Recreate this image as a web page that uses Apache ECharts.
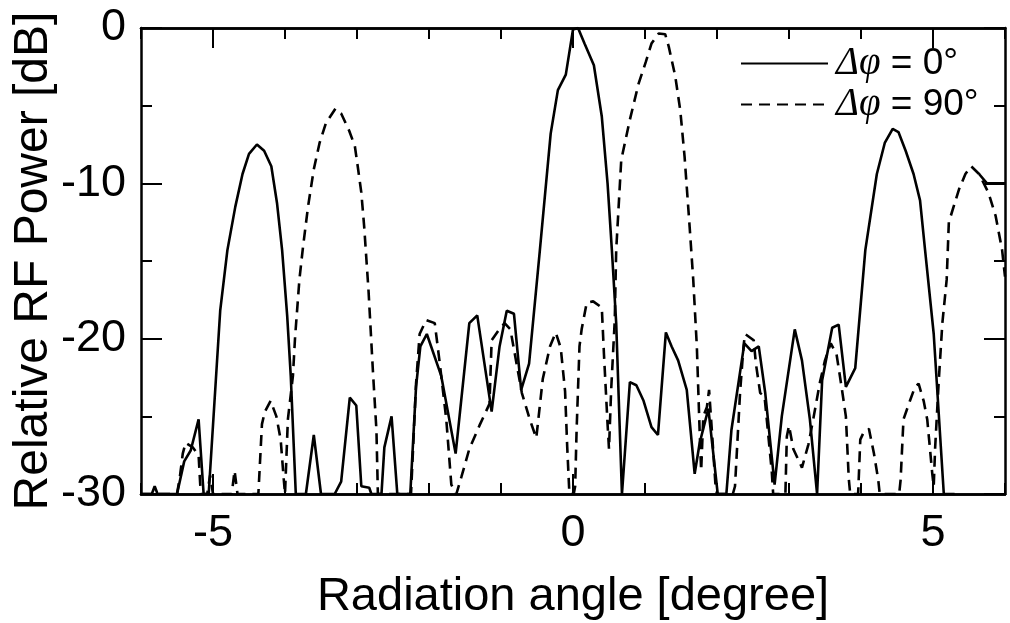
<!DOCTYPE html>
<html>
<head>
<meta charset="utf-8">
<script src="https://cdn.jsdelivr.net/npm/echarts@6/dist/echarts.min.js"></script>
<style>
html,body{margin:0;padding:0;background:#fff;}
#chart{width:1010px;height:623px;}
</style>
</head>
<body>
<div id="chart"></div>
<script>
// Δφ = 0° (solid)
var solidX = [-6.0,-5.85,-5.81,-5.77,-5.50,-5.40,-5.31,-5.20,-5.13,-5.06,-4.90,-4.80,-4.69,-4.59,-4.50,-4.39,-4.29,-4.19,-4.11,-4.04,-3.97,-3.92,-3.85,-3.71,-3.60,-3.50,-3.31,-3.22,-3.10,-3.01,-2.94,-2.83,-2.80,-2.66,-2.62,-2.52,-2.44,-2.26,-2.18,-2.12,-2.03,-1.83,-1.63,-1.44,-1.33,-1.13,-1.02,-0.92,-0.82,-0.72,-0.61,-0.46,-0.31,-0.21,-0.10,0.00,0.07,0.16,0.29,0.40,0.48,0.54,0.60,0.68,0.79,0.88,0.98,1.09,1.18,1.29,1.37,1.46,1.58,1.69,1.76,1.88,2.01,2.13,2.20,2.38,2.48,2.58,2.67,2.80,2.90,3.08,3.18,3.29,3.39,3.46,3.60,3.69,3.79,3.92,4.06,4.22,4.33,4.44,4.52,4.62,4.73,4.82,4.89,5.01,5.15,5.30,5.50,5.64,5.75,6.00];
var solidY = [-30,-30,-29.5,-30,-30,-27.9,-27.2,-25.2,-30,-30,-18.2,-14.3,-11.5,-9.4,-8.1,-7.5,-7.9,-8.9,-11.3,-14.3,-18.5,-22.4,-30,-30,-26.2,-30,-30,-29.2,-23.8,-24.3,-29.5,-29.6,-30,-30,-27.0,-25.0,-30,-30,-23.1,-20.5,-19.7,-22.4,-27.4,-19.0,-18.5,-24.7,-20.5,-18.2,-18.4,-23.3,-21.6,-14.3,-6.8,-4.0,-3.0,-0.1,0.0,-1.0,-2.4,-5.7,-10.0,-14.3,-19.0,-30,-22.8,-23.0,-24.0,-25.7,-26.2,-19.6,-20.5,-21.4,-23.3,-28.7,-26.7,-24.5,-30,-30,-25.9,-20.3,-20.8,-20.5,-23.5,-29.4,-25.0,-19.4,-21.4,-25.2,-30,-22.7,-19.3,-19.1,-23.1,-21.9,-14.3,-9.4,-7.4,-6.5,-6.7,-7.9,-9.4,-11.1,-14.3,-19.7,-30,-30,null,-9.4,-10.0,-10.0];

// Δφ = 90° (dashed)
var dashX = [-6.0,-5.50,-5.46,-5.42,-5.38,-5.28,-5.20,-5.17,-5.08,-5.04,-5.00,-4.74,-4.70,-4.66,-4.37,-4.32,-4.28,-4.20,-4.12,-4.06,-4.02,-4.00,-3.96,-3.89,-3.86,-3.80,-3.75,-3.68,-3.60,-3.52,-3.43,-3.30,-3.22,-3.11,-3.03,-2.99,-2.94,-2.90,-2.84,-2.78,-2.73,-2.71,-2.25,-2.18,-2.13,-2.04,-1.92,-1.85,-1.76,-1.69,-1.62,-1.55,-1.44,-1.30,-1.16,-1.13,-1.04,-0.95,-0.87,-0.71,-0.60,-0.51,-0.42,-0.32,-0.24,-0.17,-0.11,-0.08,-0.05,0.01,0.03,0.05,0.09,0.12,0.19,0.28,0.40,0.43,0.48,0.50,0.53,0.58,0.60,0.67,0.79,0.91,1.01,1.09,1.19,1.28,1.33,1.42,1.49,1.55,1.62,1.67,1.72,1.76,1.78,1.81,1.86,1.89,1.93,1.98,2.00,2.22,2.25,2.32,2.37,2.39,2.51,2.54,2.60,2.66,2.76,2.78,2.95,2.97,3.00,3.06,3.18,3.27,3.34,3.43,3.50,3.58,3.66,3.73,3.79,3.83,3.85,3.96,3.99,4.03,4.11,4.18,4.24,4.26,4.53,4.55,4.59,4.68,4.75,4.80,4.87,4.92,4.99,5.01,5.03,5.08,5.13,5.19,5.22,5.36,5.45,5.53,5.64,5.77,5.87,5.96,6.00];
var dashY = [-30,-30,-28.9,-27.4,-26.7,-27.0,-27.5,-30,-30,-28.8,-30,-30,-28.5,-30,-30,-25.5,-24.7,-24.0,-25.0,-26.5,-28.9,-30,-25.2,-22.4,-19.9,-16.2,-14.1,-11.5,-9.1,-7.4,-6.1,-5.2,-5.5,-6.6,-7.6,-8.9,-10.6,-12.8,-16.9,-22.0,-25.9,-30,-30,-22.9,-19.7,-18.8,-19.0,-21.6,-25.2,-29.4,-30,-28.9,-27.1,-25.6,-24.2,-20.1,-19.5,-19.0,-19.4,-23.5,-25.2,-26.4,-22.6,-20.5,-19.6,-20.6,-23.4,-27.0,-30,-30,-29.5,-25.9,-20.5,-19.4,-17.7,-17.6,-18.0,-21.0,-25.5,-27.1,-23.3,-18.8,-14.3,-8.5,-5.9,-3.6,-2.2,-1.0,-0.35,-0.4,-1.2,-3.1,-5.3,-8.3,-12.8,-16.2,-20.5,-26.1,-28.5,-25.0,-24.4,-23.3,-26.0,-29.5,-30,-30,-29.5,-23.5,-20.4,-19.7,-20.1,-21.6,-23.5,-23.7,-28.5,-30,-30,-26.3,-25.6,-27.1,-28.3,-26.8,-25.1,-22.8,-21.4,-20.3,-21.0,-23.1,-25.0,-29.0,-30,-30,-26.5,-26.1,-25.8,-27.4,-29.1,-30,-30,-29.1,-25.2,-24.0,-23.1,-22.9,-24.0,-25.2,-28.7,-29.5,-27.0,-22.7,-19.0,-16.2,-12.5,-10.4,-9.4,-8.9,-9.4,-10.6,-12.1,-14.3,-16.0];

var xMinorTicks = [-6,-5,-4,-3,-2,-1,0,1,2,3,4,5,6];
var xMajorTicks = [-5,0,5];
var xLabels = [-5,0,5];
var seriesNames = ['0', '90'];

function pairs(xs, ys){
  return xs.map(function(x,i){ return [x, ys[i] === null ? '-' : ys[i]]; });
}

var FONT = '"Liberation Sans", Arial, sans-serif';
var black = '#000';

function xAx(pos, ticks, len, withLabels){
  var ax = {
    type:'value', min:-6, max:6, position:pos, gridIndex:0,
    axisLine:{show:true, onZero:false, lineStyle:{color:black, width:2.5}},
    axisTick:{show:true, inside:true, length:len, customValues:ticks, lineStyle:{color:black, width:2}},
    axisLabel:{show:withLabels, customValues:xLabels, fontSize:45, color:black, fontFamily:FONT, margin:17},
    splitLine:{show:false}
  };
  if (withLabels) {
    ax.name = 'Radiation angle [degree]';
    ax.nameLocation = 'middle';
    ax.nameGap = 80;
    ax.nameMoveOverlap = false;
    ax.nameTextStyle = {fontSize:47, color:black, fontFamily:FONT};
  }
  return ax;
}
function yAx(pos, withLabels){
  var ax = {
    type:'value', min:-30, max:0, interval:10, position:pos, gridIndex:0,
    axisLine:{show:true, onZero:false, lineStyle:{color:black, width:2.5}},
    axisTick:{show:true, inside:true, length:21, lineStyle:{color:black, width:2}},
    minorTick:{show:true, splitNumber:2, length:11, lineStyle:{color:black, width:2}},
    axisLabel:{show:withLabels, fontSize:45, color:black, fontFamily:FONT, margin:15},
    splitLine:{show:false}
  };
  if (withLabels) {
    ax.name = 'Relative RF Power [dB]';
    ax.nameLocation = 'middle';
    ax.nameGap = 83;
    ax.nameMoveOverlap = false;
    ax.nameRotate = 90;
    ax.nameTextStyle = {fontSize:48, color:black, fontFamily:FONT};
  }
  return ax;
}

var chart = echarts.init(document.getElementById('chart'), null, {renderer:'canvas'});
chart.setOption({
  animation:false,
  backgroundColor:'#fff',
  grid:{left:141, right:5, top:28, bottom:129, containLabel:false, outerBoundsMode:'none'},
  xAxis:[
    xAx('bottom', xMinorTicks, 11, true),
    xAx('bottom', xMajorTicks, 20, false),
    xAx('top', xMinorTicks, 11, false),
    xAx('top', xMajorTicks, 20, false)
  ],
  yAxis:[ yAx('left', true), yAx('right', false) ],
  legend:{
    show:true, orient:'vertical', left:735, top:38, itemWidth:87, itemHeight:20, itemGap:0,
    data:seriesNames,
    itemStyle:{color:'rgba(0,0,0,0)', borderColor:'rgba(0,0,0,0)', borderWidth:0},
    formatter:function(n){ return '{it|Δφ} = ' + n + '°'; },
    textStyle:{fontSize:37, color:black, fontFamily:FONT, lineHeight:41, padding:[0,0,0,3],
      rich:{it:{fontSize:39, lineHeight:41, fontStyle:'italic', fontFamily:'"Liberation Serif", serif', color:black}}}
  },
  series:[
    {name:seriesNames[0], type:'line', xAxisIndex:0, yAxisIndex:0, symbol:'none', clip:true,
     connectNulls:false, lineStyle:{color:black, width:2.6, type:'solid'}, itemStyle:{color:black},
     data:pairs(solidX, solidY)},
    {name:seriesNames[1], type:'line', xAxisIndex:0, yAxisIndex:0, symbol:'none', clip:true,
     lineStyle:{color:black, width:2.6, type:[11,7]}, itemStyle:{color:black},
     data:pairs(dashX, dashY)}
  ]
});
</script>
</body>
</html>
